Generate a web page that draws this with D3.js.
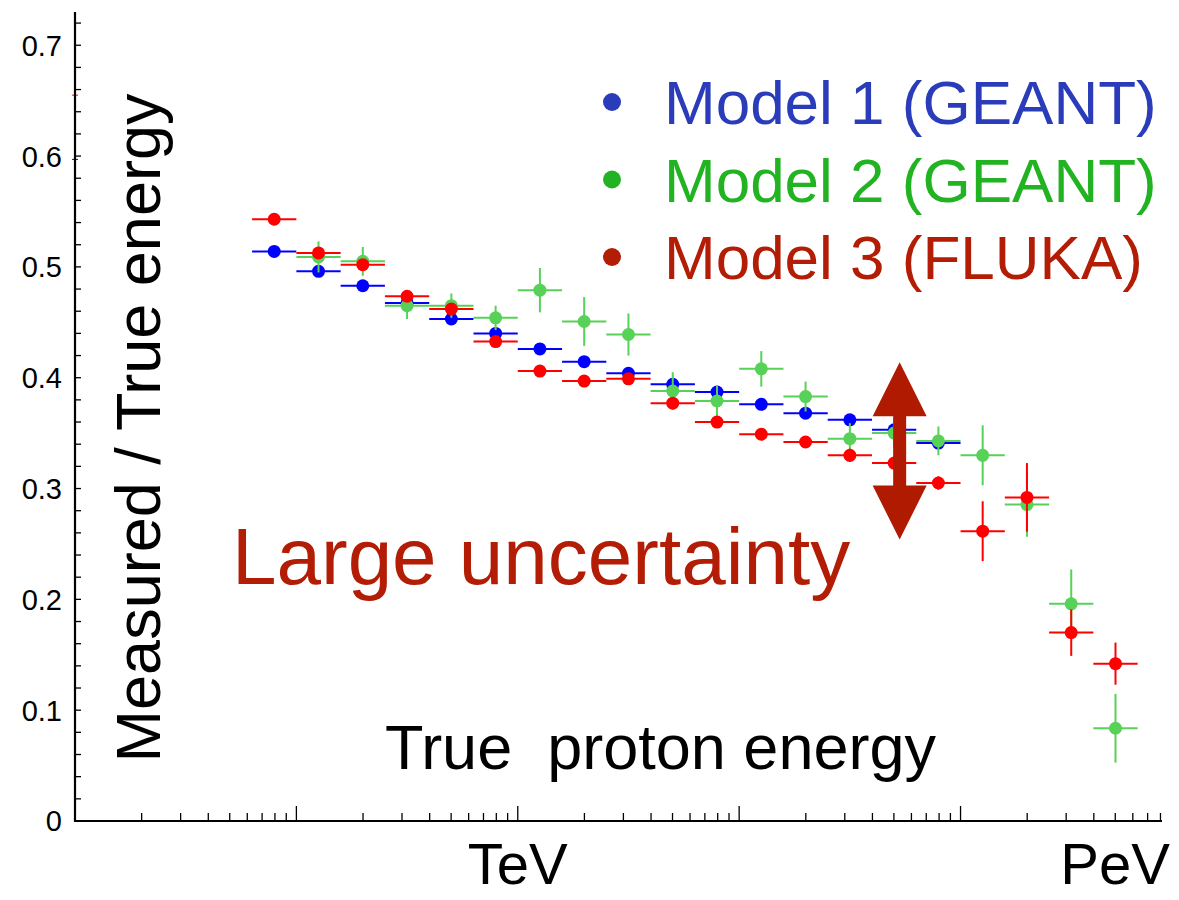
<!DOCTYPE html>
<html>
<head>
<meta charset="utf-8">
<script src="https://cdn.jsdelivr.net/npm/d3@7"></script>
<style>
  body { margin: 0; background: #fff; }
  text { font-family: "Liberation Sans", Arial, Helvetica, sans-serif; }
</style>
</head>
<body>
<div id="chart"></div>
<script>
// bin centres, true proton energy in GeV (bins are 0.2 decade wide)
var binCenters = [79.4, 125.9, 199.5, 316.2, 501.2, 794.3, 1259, 1995, 3162, 5012,
                  7943, 12589, 19953, 31623, 50119, 79433, 125893, 199526, 316228, 501187];
var binHalfFactor = 1.2589; // 10^0.1

var model1 = [0.514, 0.496, 0.483, 0.4675, 0.453, 0.440, 0.426, 0.4145, 0.404, 0.394,
              0.387, 0.376, 0.368, 0.362, 0.353, 0.341, null, null, null, null];
var model1Err = [0.004, 0.004, 0.004, 0.004, 0.004, 0.004, 0.004, 0.004, 0.004, 0.004,
                 0.004, 0.004, 0.004, 0.004, 0.004, 0.004, null, null, null, null];

var model2 = [null, 0.509, 0.505, 0.465, 0.465, 0.454, 0.479, 0.4507, 0.439, 0.388,
              0.379, 0.408, 0.383, 0.345, 0.350, 0.343, 0.330, 0.2855, 0.196, 0.0837];
var model2Err = [null, 0.014, 0.013, 0.012, 0.011, 0.011, 0.020, 0.022, 0.019, 0.017,
                 0.0135, 0.016, 0.0135, 0.014, 0.014, 0.013, 0.027, 0.029, 0.031, 0.031];

var model3 = [0.543, 0.5126, 0.502, 0.4735, 0.462, 0.4326, 0.406, 0.397, 0.399, 0.377,
              0.360, 0.349, 0.342, 0.330, 0.323, 0.305, 0.2615, 0.292, 0.170, 0.142];
var model3Err = [0.004, 0.004, 0.004, 0.004, 0.004, 0.004, 0.004, 0.004, 0.004, 0.004,
                 0.005, 0.005, 0.005, 0.006, 0.006, 0.006, 0.027, 0.031, 0.021, 0.019];

var legendLabels = ["Model 1 (GEANT)", "Model 2 (GEANT)", "Model 3 (FLUKA)"];
var yTickLabels = [0, 0.1, 0.2, 0.3, 0.4, 0.5, 0.6, 0.7];
var unitLabels = ["TeV", "PeV"];

var width = 1179, height = 900;
var margin = {top: 12, right: 17, bottom: 79, left: 75};

var svg = d3.select("#chart").append("svg")
    .attr("width", width)
    .attr("height", height);

var x = d3.scaleLog()
    .domain([10, Math.pow(10, 5.91)])
    .range([margin.left, width - margin.right]);

var y = d3.scaleLinear()
    .domain([0, 0.73])
    .range([height - margin.bottom, margin.top]);

// ---- axes, ticks pointing inward ----
var x0 = margin.left, y0 = height - margin.bottom;

// y minor/major ticks every 0.02
var yTicks = d3.range(0, 0.7201, 0.02);
svg.append("g").selectAll("line")
  .data(yTicks).enter().append("line")
    .attr("x1", x0).attr("x2", x0 + 6)
    .attr("y1", function(d) { return y(d); })
    .attr("y2", function(d) { return y(d); })
    .style("stroke", "#000").style("stroke-width", 1.3);

svg.append("g").selectAll("text")
  .data(yTickLabels).enter().append("text")
    .attr("x", 62)
    .attr("y", function(d) { return y(d); })
    .attr("dy", "0.36em")
    .attr("text-anchor", "end")
    .style("font-size", "29px")
    .text(function(d) { return d === 0 ? "0" : d3.format(".1f")(d); });

// x log ticks
var xTicks = x.ticks().filter(function(d) { return d > 10 && d <= x.domain()[1]; });
svg.append("g").selectAll("line")
  .data(xTicks).enter().append("line")
    .attr("x1", function(d) { return x(d); })
    .attr("x2", function(d) { return x(d); })
    .attr("y1", y0)
    .attr("y2", function(d) {
      var m = d / Math.pow(10, Math.floor(Math.log10(d) + 1e-9));
      return Math.abs(m - 1) < 1e-6 ? y0 - 15 : y0 - 8;
    })
    .style("stroke", "#000").style("stroke-width", 1.3);

// small stray marks on the y axis
svg.append("line").attr("x1", x0 - 3).attr("x2", x0 + 3)
  .attr("y1", y(0.655)).attr("y2", y(0.655)).style("stroke", "#ff0000").style("stroke-width", 1);
svg.append("line").attr("x1", x0 - 3).attr("x2", x0 + 3)
  .attr("y1", y(0.597)).attr("y2", y(0.597)).style("stroke", "#0000ff").style("stroke-width", 1);

svg.append("path")
    .attr("d", "M" + x0 + "," + margin.top + "V" + y0 + "H" + (width - margin.right))
    .style("fill", "none").style("stroke", "#000").style("stroke-width", 2.2);

// ---- data ----
var series = [
  {vals: model1, errs: model1Err, color: "#0000ff"},
  {vals: model2, errs: model2Err, color: "#57d157"},
  {vals: model3, errs: model3Err, color: "#ff0000"}
];

series.forEach(function(s) {
  var pts = binCenters.map(function(e, i) {
    return {e: e, v: s.vals[i], err: s.errs[i]};
  }).filter(function(d) { return d.v !== null; });

  var g = svg.append("g");
  g.selectAll(".hbar").data(pts).enter().append("line")
    .attr("x1", function(d) { return x(d.e / binHalfFactor); })
    .attr("x2", function(d) { return x(d.e * binHalfFactor); })
    .attr("y1", function(d) { return y(d.v); })
    .attr("y2", function(d) { return y(d.v); })
    .style("stroke", s.color).style("stroke-width", 2);
  g.selectAll(".vbar").data(pts).enter().append("line")
    .attr("x1", function(d) { return x(d.e); })
    .attr("x2", function(d) { return x(d.e); })
    .attr("y1", function(d) { return y(d.v - d.err); })
    .attr("y2", function(d) { return y(d.v + d.err); })
    .style("stroke", s.color).style("stroke-width", 2);
  g.selectAll("circle").data(pts).enter().append("circle")
    .attr("cx", function(d) { return x(d.e); })
    .attr("cy", function(d) { return y(d.v); })
    .attr("r", 6.5)
    .style("fill", s.color);
});

// ---- legend ----
var legendColors = ["#2a3cba", "#22b322", "#b31c05"];
var legend = svg.append("g");
legendLabels.forEach(function(lab, i) {
  legend.append("circle")
    .attr("cx", 612).attr("cy", 102 + i * 77.5).attr("r", 9)
    .style("fill", legendColors[i]);
  legend.append("text")
    .attr("x", 664).attr("y", 124 + i * 77.5)
    .style("font-size", "62px")
    .style("fill", legendColors[i])
    .text(lab);
});

// ---- annotation: double arrow ----
var arrowE = Math.pow(10, 4.725);
var ax = x(arrowE), aTop = y(0.414), aBot = y(0.254);
var headH = 54, headW = 27, shaftW = 6.5;
svg.append("path")
  .attr("d", [
    "M", ax, aTop,
    "L", ax + headW, aTop + headH,
    "L", ax + shaftW, aTop + headH,
    "L", ax + shaftW, aBot - headH,
    "L", ax + headW, aBot - headH,
    "L", ax, aBot,
    "L", ax - headW, aBot - headH,
    "L", ax - shaftW, aBot - headH,
    "L", ax - shaftW, aTop + headH,
    "L", ax - headW, aTop + headH,
    "Z"].join(" "))
  .style("fill", "#b01a00");

svg.append("text")
  .attr("x", 232).attr("y", 584)
  .style("font-size", "80px")
  .style("fill", "#b31c05")
  .text("Large uncertainty");

// ---- axis titles ----
svg.append("text")
  .attr("transform", "translate(160,428) rotate(-90)")
  .attr("text-anchor", "middle")
  .style("font-size", "63px")
  .text("Measured / True energy");

svg.append("text")
  .attr("x", 385).attr("y", 769)
  .style("font-size", "63px")
  .style("white-space", "pre")
  .text("True  proton energy");

svg.append("text")
  .attr("x", x(1000)).attr("y", 884)
  .attr("text-anchor", "middle")
  .style("font-size", "58px")
  .text(unitLabels[0]);

svg.append("text")
  .attr("x", 1170).attr("y", 884)
  .attr("text-anchor", "end")
  .style("font-size", "58px")
  .text(unitLabels[1]);
</script>
</body>
</html>
